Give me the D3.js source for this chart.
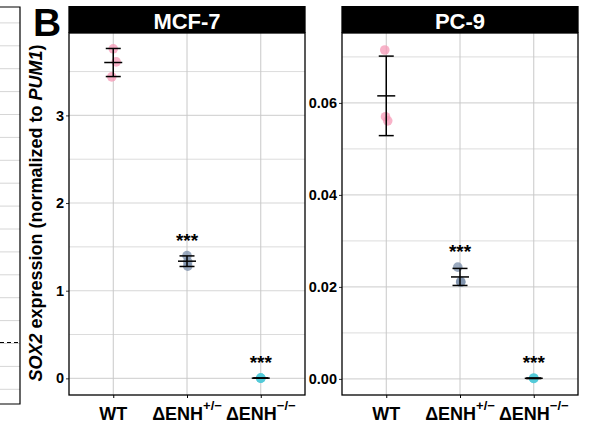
<!DOCTYPE html>
<html>
<head>
<meta charset="utf-8">
<script src="https://cdn.jsdelivr.net/npm/d3@7"></script>
<style>
  html, body { margin: 0; padding: 0; background: #fff; }
  svg { display: block; font-family: "Liberation Sans", Arial, Helvetica, sans-serif; }
</style>
</head>
<body>
<svg id="chart" width="604" height="423"></svg>
<script>
// Genotype categories shared by both cell lines
const genotypes = ["WT", "het", "hom"];
const genotypeBase = { WT: "WT", het: "ΔENH", hom: "ΔENH" };
const genotypeSup = { WT: "", het: "+/−", hom: "−/−" };
const genotypeColors = { WT: "#f598b6", het: "#7a8ea9", hom: "#52cad8" };

// SOX2 expression (normalized to PUM1), three replicates per genotype
const mcf7WT  = [3.76, 3.61, 3.44];
const mcf7Het = [1.40, 1.33, 1.28];
const mcf7Hom = [0.003, 0.002, 0.002];
const pc9WT   = [0.0715, 0.0570, 0.0561];
const pc9Het  = [0.0243, 0.0212, 0.0210];
const pc9Hom  = [0.0002, 0.0001, 0.0001];

// Small horizontal jitter of replicate points (in category steps)
const jitterWT  = [0.00, 0.04, -0.02];
const jitterHet = [0.00, 0.01, 0.01];
const jitterHom = [0.00, 0.00, 0.00];
const pc9JitterWT  = [-0.02, -0.01, 0.02];
const pc9JitterHet = [-0.03, 0.01, 0.01];

// Significance labels
const sigLabels = { WT: "", het: "***", hom: "***" };

// Axis ticks
const mcf7Ticks = [0, 1, 2, 3];
const mcf7Minor = [0.5, 1.5, 2.5, 3.5];
const mcf7Domain = [-0.19, 3.94];
const pc9Ticks = [0, 0.02, 0.04, 0.06];
const pc9Minor = [0.01, 0.03, 0.05, 0.07];
const pc9Domain = [-0.0035, 0.0752];

const panels = [
  { title: "MCF-7", x0: 69, values: { WT: mcf7WT, het: mcf7Het, hom: mcf7Hom },
    jitter: { WT: jitterWT, het: jitterHet, hom: jitterHom },
    ticks: mcf7Ticks, minor: mcf7Minor, domain: mcf7Domain, fmt: d3.format("d") },
  { title: "PC-9", x0: 342, values: { WT: pc9WT, het: pc9Het, hom: pc9Hom },
    jitter: { WT: pc9JitterWT, het: pc9JitterHet, hom: jitterHom },
    ticks: pc9Ticks, minor: pc9Minor, domain: pc9Domain, fmt: d3.format(".2f") }
];

const svg = d3.select("#chart");
const plotTop = 33, plotBottom = 395, plotW = 236, stripTop = 6;

// Edge of the neighbouring panel on the left
const edge = svg.append("g");
const edgeGrid = d3.range(1, 18).map(k => k * 22.9);
edge.selectAll("line.g").data(edgeGrid).join("line")
  .attr("x1", 0).attr("x2", 20).attr("y1", d => d).attr("y2", d => d)
  .attr("stroke", "#d6d6d6").attr("stroke-width", 1);
edge.append("line").attr("x1", 0).attr("x2", 20).attr("y1", 342.5).attr("y2", 342.5)
  .attr("stroke", "#000").attr("stroke-width", 1).attr("stroke-dasharray", "4,3");
edge.append("path").attr("d", "M0,7H20V404H0").attr("fill", "none")
  .attr("stroke", "#000").attr("stroke-width", 1.2);

// Panel letter
svg.append("text").attr("x", 33).attr("y", 36).attr("font-size", 39)
  .attr("font-weight", "bold").text("B");

// Shared y-axis title
const yTitle = svg.append("text")
  .attr("transform", "translate(42,213) rotate(-90)")
  .attr("text-anchor", "middle").attr("font-size", 18).attr("font-weight", "bold");
yTitle.append("tspan").attr("font-style", "italic").text("SOX2");
yTitle.append("tspan").text(" expression (normalized to ");
yTitle.append("tspan").attr("font-style", "italic").text("PUM1");
yTitle.append("tspan").text(")");

panels.forEach(p => {
  const g = svg.append("g").attr("transform", `translate(${p.x0},0)`);
  const x = d3.scalePoint().domain(genotypes).range([0, plotW]).padding(0.6);
  const y = d3.scaleLinear().domain(p.domain).range([plotBottom, plotTop]);
  const step = x.step();

  // grid
  g.selectAll("line.minor").data(p.minor).join("line")
    .attr("x1", 0).attr("x2", plotW).attr("y1", d => y(d)).attr("y2", d => y(d))
    .attr("stroke", "#dcdcdc").attr("stroke-width", 1);
  g.selectAll("line.major").data(p.ticks).join("line")
    .attr("x1", 0).attr("x2", plotW).attr("y1", d => y(d)).attr("y2", d => y(d))
    .attr("stroke", "#d6d6d6").attr("stroke-width", 1.1);
  g.selectAll("line.vgrid").data(genotypes).join("line")
    .attr("x1", d => x(d)).attr("x2", d => x(d)).attr("y1", plotTop).attr("y2", plotBottom)
    .attr("stroke", "#c8c8c8").attr("stroke-width", 1);

  // y axis ticks and labels
  const yAxis = g.append("g").call(d3.axisLeft(y).tickValues(p.ticks).tickFormat(p.fmt)
    .tickSize(3).tickPadding(2));
  yAxis.select(".domain").remove();
  yAxis.selectAll(".tick line").attr("stroke", "#333");
  yAxis.selectAll(".tick text").attr("font-size", 14.5).attr("font-weight", "bold")
    .attr("fill", "#000").attr("font-family", null);

  // x axis ticks and labels
  const xAxis = g.append("g").attr("transform", `translate(0,${plotBottom})`)
    .call(d3.axisBottom(x).tickSize(3).tickFormat(""));
  xAxis.select(".domain").remove();
  xAxis.selectAll(".tick line").attr("stroke", "#000");
  genotypes.forEach(k => {
    const t = g.append("text").attr("x", x(k)).attr("y", 420).attr("text-anchor", "middle")
      .attr("font-size", 18).attr("font-weight", "bold");
    t.append("tspan").text(genotypeBase[k]);
    if (genotypeSup[k]) {
      t.append("tspan").attr("font-size", 13).attr("dy", -10).text(genotypeSup[k]);
    }
  });

  // replicate points
  genotypes.forEach(k => {
    const vals = p.values[k];
    g.selectAll(null).data(vals).join("circle")
      .attr("cx", (d, i) => x(k) + p.jitter[k][i] * step)
      .attr("cy", d => y(d)).attr("r", 4.8)
      .attr("fill", genotypeColors[k]).attr("fill-opacity", 0.75);
  });

  // mean ± SD
  genotypes.forEach(k => {
    const vals = p.values[k];
    const m = d3.mean(vals), sd = d3.deviation(vals);
    const cx = x(k);
    const eb = g.append("g").attr("stroke", "#000").attr("stroke-width", 1.5);
    eb.append("line").attr("x1", cx).attr("x2", cx).attr("y1", y(m - sd)).attr("y2", y(m + sd));
    [m - sd, m + sd].forEach(v => eb.append("line").attr("x1", cx - 7.5).attr("x2", cx + 7.5)
      .attr("y1", y(v)).attr("y2", y(v)));
    eb.append("line").attr("x1", cx - 9).attr("x2", cx + 9).attr("y1", y(m)).attr("y2", y(m));
    if (sigLabels[k]) {
      const top = Math.max(m + sd, d3.max(vals));
      g.append("text").attr("x", cx).attr("y", y(top) - 9).attr("text-anchor", "middle")
        .attr("font-size", 19).attr("font-weight", "bold").text(sigLabels[k]);
    }
  });

  // frame and strip
  g.append("rect").attr("x", 0).attr("y", plotTop).attr("width", plotW)
    .attr("height", plotBottom - plotTop).attr("fill", "none")
    .attr("stroke", "#000").attr("stroke-width", 1.3);
  g.append("rect").attr("x", -0.65).attr("y", stripTop).attr("width", plotW + 1.3)
    .attr("height", plotTop - stripTop).attr("fill", "#000");
  g.append("text").attr("x", plotW / 2).attr("y", 29).attr("text-anchor", "middle")
    .attr("fill", "#fff").attr("font-size", 22).attr("font-weight", "bold").text(p.title);
});
</script>
</body>
</html>
